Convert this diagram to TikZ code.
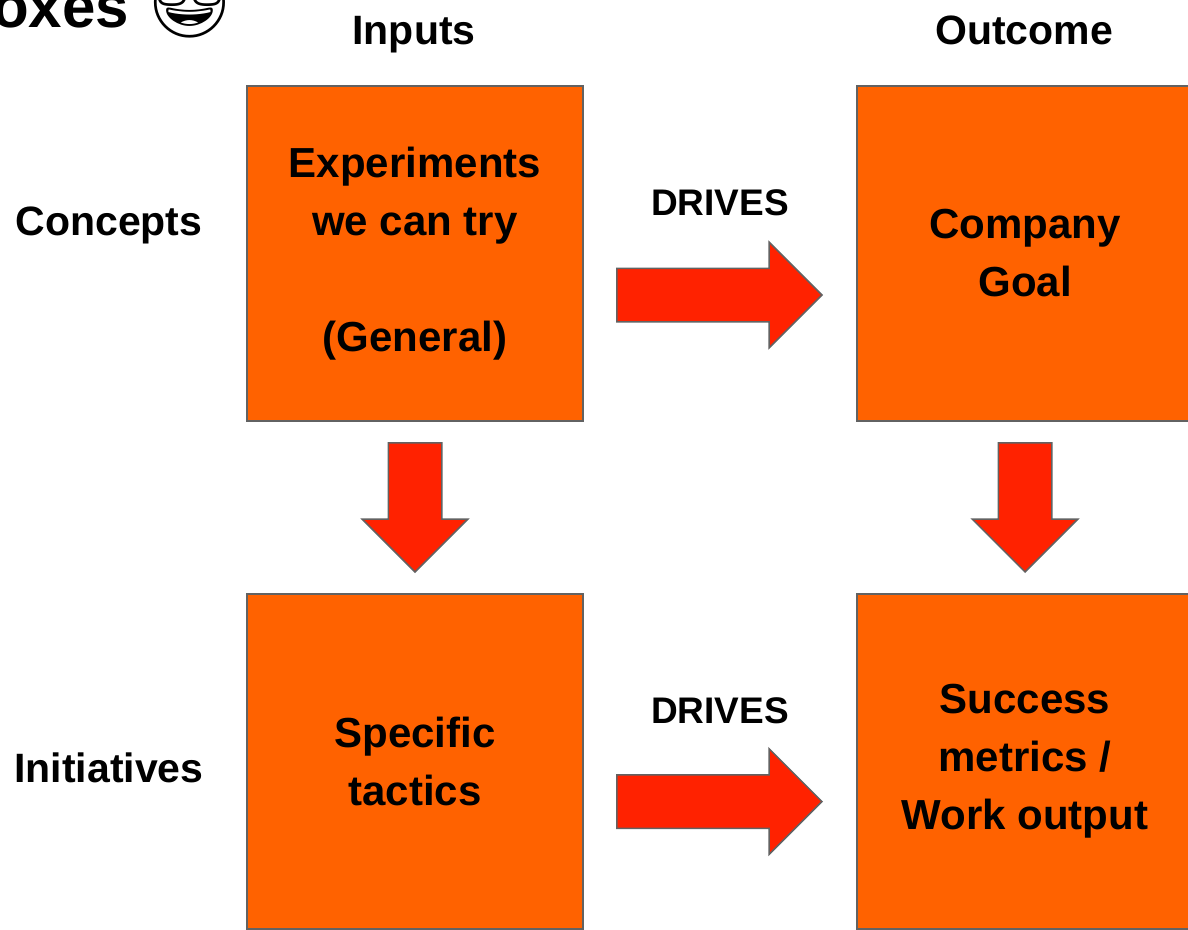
\documentclass[tikz,border=0pt]{standalone}
\usepackage{fontspec}
\setmainfont{Liberation Sans}
\newfontfamily\emojifont{Noto Emoji}
\usetikzlibrary{shapes.arrows}
\definecolor{boxorange}{RGB}{255,98,0}
\definecolor{arrowred}{RGB}{255,34,0}
\definecolor{edgegray}{RGB}{98,98,98}
\tikzset{
	box/.style={draw=edgegray, line width=1.5pt, fill=boxorange, minimum width=336pt, minimum height=335pt, inner sep=0pt, align=center, font=\bfseries\fontsize{42}{58}\selectfont},
	headtxt/.style={inner sep=0pt, font=\bfseries\fontsize{41}{48}\selectfont},
	drivestxt/.style={inner sep=0pt, font=\bfseries\fontsize{37}{44}\selectfont},
	blockarrow/.style={single arrow, draw=edgegray, line width=1.5pt, fill=arrowred, inner sep=26pt, single arrow head extend=26pt, single arrow tip angle=90, anchor=tip}
}

\begin{document}
\begin{tikzpicture}[x=1pt, y=-1pt]
		%%%%% START %%%%%
		
		\useasboundingbox (0, 0) rectangle (1188, 929);
		\fill[white] (0, 0) rectangle (1188, 929);
		
		% title, cut at the edge
		\node[inner sep=0pt, anchor=base east, font=\bfseries\fontsize{60}{70}\selectfont] (title) at (129, 27) {oxes};
		\node[inner sep=0pt, font=\emojifont\fontsize{70}{80}\selectfont] (nerd) at (190, 3) {🤓};
		
		% column and row heads
		\node[headtxt] (inputs) at (414, 35) {Inputs};
		\node[headtxt] (outcome) at (1024, 30) {Outcome};
		\node[headtxt] (concepts) at (109, 225) {Concepts};
		\node[headtxt] (initiatives) at (109, 768) {Initiatives};
		
		% boxes
		\node[box] (experiments) at (415, 253.5) {Experiments\\we can try\\[58pt](General)};
		\node[box] (goal) at (1025, 253.5) {Company\\Goal};
		\node[box] (tactics) at (415, 761.5) {Specific\\tactics};
		\node[box] (metrics) at (1025, 761.5) {Success\\metrics /\\Work output};
		
		% arrows
		\node[drivestxt] (drivestop) at (720, 203) {DRIVES};
		\node[blockarrow, minimum height=205pt] (arrowtop) at (823, 295) {};
		\node[drivestxt] (drivesbottom) at (720, 711) {DRIVES};
		\node[blockarrow, minimum height=205pt] (arrowbottom) at (823, 801.5) {};
		
		\node[blockarrow, minimum height=129pt, shape border rotate=270] (arrowleft) at (415, 573) {};
		\node[blockarrow, minimum height=129pt, shape border rotate=270] (arrowright) at (1025, 573) {};
		
		%%%%% END %%%%%
\end{tikzpicture}
\end{document}
